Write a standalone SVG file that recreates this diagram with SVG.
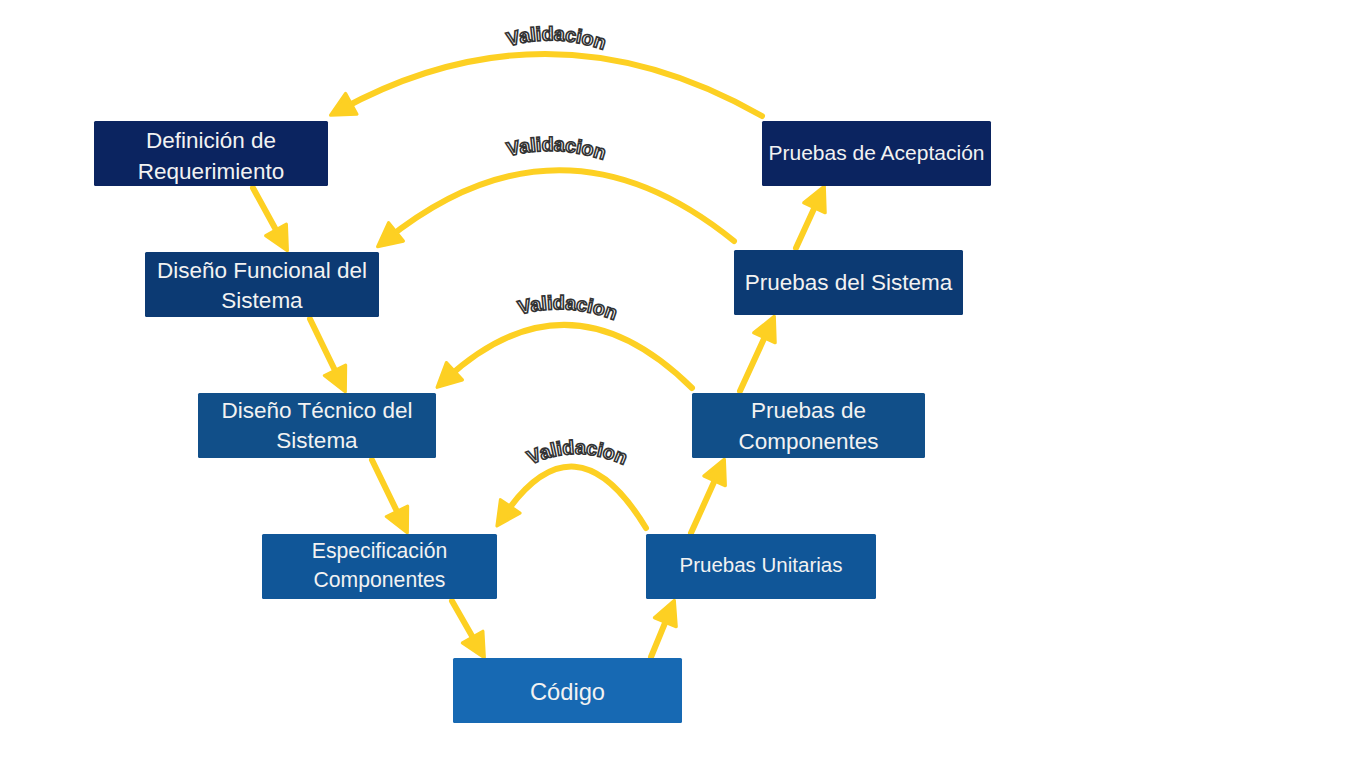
<svg xmlns="http://www.w3.org/2000/svg" width="1366" height="768" viewBox="0 0 1366 768">
  <style>
    .box { stroke: none; }
    .lvl1 { fill: #0b2460; }
    .lvl2 { fill: #0c3a73; }
    .lvl3 { fill: #114f89; }
    .lvl4 { fill: #105698; }
    .lvl5 { fill: #1769b3; }
    .lbl { font-family: "Liberation Sans", Arial, sans-serif; fill: #f2f2f2; text-anchor: middle; }
    .flow { fill: none; stroke: #fdd023; stroke-width: 6; stroke-linecap: round; marker-end: url(#head); }
    .val { font-family: "Liberation Sans", Arial, sans-serif; font-weight: bold; font-size: 19.5px; fill: #ffffff; stroke: #333333; stroke-width: 1.6; text-anchor: middle; }
  </style>
  <defs>
    <marker id="head" markerUnits="userSpaceOnUse" markerWidth="30" markerHeight="30" viewBox="-3 -14 28 28" refX="12" refY="0" orient="auto">
      <path d="M0,-11 L22,0 L0,11 z" fill="#fdd023" stroke="#fdd023" stroke-width="3" stroke-linejoin="round"/>
    </marker>
    <path id="arc1" d="M503,48 Q555,31 609,52"/>
    <path id="arc2" d="M503,158 Q555,142 609,162"/>
    <path id="arc3" d="M515,316 Q566,300 619,322"/>
    <path id="arc4" d="M525,468 Q575,440 630,468"/>
  </defs>

  <rect width="1366" height="768" fill="#ffffff"/>

  <!-- connectors -->
  <g id="connectors">
    <line class="flow" x1="253" y1="188" x2="282.2" y2="241.2"/>
    <line class="flow" x1="310" y1="319" x2="340.6" y2="382"/>
    <line class="flow" x1="372" y1="460" x2="402.6" y2="523"/>
    <line class="flow" x1="452" y1="601" x2="479" y2="648.3"/>
    <line class="flow" x1="651" y1="657" x2="670.2" y2="610.3"/>
    <line class="flow" x1="691" y1="533" x2="719.9" y2="469.1"/>
    <line class="flow" x1="740" y1="391" x2="769.8" y2="326.1"/>
    <line class="flow" x1="796" y1="248" x2="819.8" y2="196.1"/>
    <path class="flow" d="M762,116 Q550,-5 340,110"/>
    <path class="flow" d="M734,241 Q560,100 386,240"/>
    <path class="flow" d="M692,388 Q568,266 445,380"/>
    <path class="flow" d="M646,528 Q575,411 503,517"/>
  </g>

  <!-- arc labels -->
  <g id="labels">
    <text class="val"><textPath href="#arc1" startOffset="50%">Validacion</textPath></text>
    <text class="val"><textPath href="#arc2" startOffset="50%">Validacion</textPath></text>
    <text class="val"><textPath href="#arc3" startOffset="50%">Validacion</textPath></text>
    <text class="val"><textPath href="#arc4" startOffset="50%">Validacion</textPath></text>
  </g>

  <!-- left branch -->
  <g id="def-requerimiento">
    <rect class="box lvl1" x="94" y="121" width="234" height="65" rx="1.5"/>
    <text class="lbl" font-size="22.5"><tspan x="211" y="148">Definición de</tspan><tspan x="211" y="179">Requerimiento</tspan></text>
  </g>
  <g id="diseno-funcional">
    <rect class="box lvl2" x="145" y="252" width="234" height="65" rx="1.5"/>
    <text class="lbl" font-size="22.5"><tspan x="262" y="277.5">Diseño Funcional del</tspan><tspan x="262" y="308">Sistema</tspan></text>
  </g>
  <g id="diseno-tecnico">
    <rect class="box lvl3" x="198" y="393" width="238" height="65" rx="1.5"/>
    <text class="lbl" font-size="22.5"><tspan x="317" y="418">Diseño Técnico del</tspan><tspan x="317" y="448">Sistema</tspan></text>
  </g>
  <g id="especificacion">
    <rect class="box lvl4" x="262" y="534" width="235" height="65" rx="1.5"/>
    <text class="lbl" font-size="21.2"><tspan x="379.5" y="557.5">Especificación</tspan><tspan x="379.5" y="586.5">Componentes</tspan></text>
  </g>

  <!-- base -->
  <g id="codigo">
    <rect class="box lvl5" x="453" y="658" width="229" height="65" rx="1.5"/>
    <text class="lbl" font-size="23.7" x="567.5" y="700">Código</text>
  </g>

  <!-- right branch -->
  <g id="pruebas-unitarias">
    <rect class="box lvl4" x="646" y="534" width="230" height="65" rx="1.5"/>
    <text class="lbl" font-size="20.5" x="761" y="572">Pruebas Unitarias</text>
  </g>
  <g id="pruebas-componentes">
    <rect class="box lvl3" x="692" y="393" width="233" height="65" rx="1.5"/>
    <text class="lbl" font-size="22.5"><tspan x="808.5" y="418">Pruebas de</tspan><tspan x="808.5" y="448.5">Componentes</tspan></text>
  </g>
  <g id="pruebas-sistema">
    <rect class="box lvl2" x="734" y="250" width="229" height="65" rx="1.5"/>
    <text class="lbl" font-size="22.5" x="848.5" y="290">Pruebas del Sistema</text>
  </g>
  <g id="pruebas-aceptacion">
    <rect class="box lvl1" x="762" y="121" width="229" height="65" rx="1.5"/>
    <text class="lbl" font-size="21" x="876.5" y="159.5">Pruebas de Aceptación</text>
  </g>
</svg>
